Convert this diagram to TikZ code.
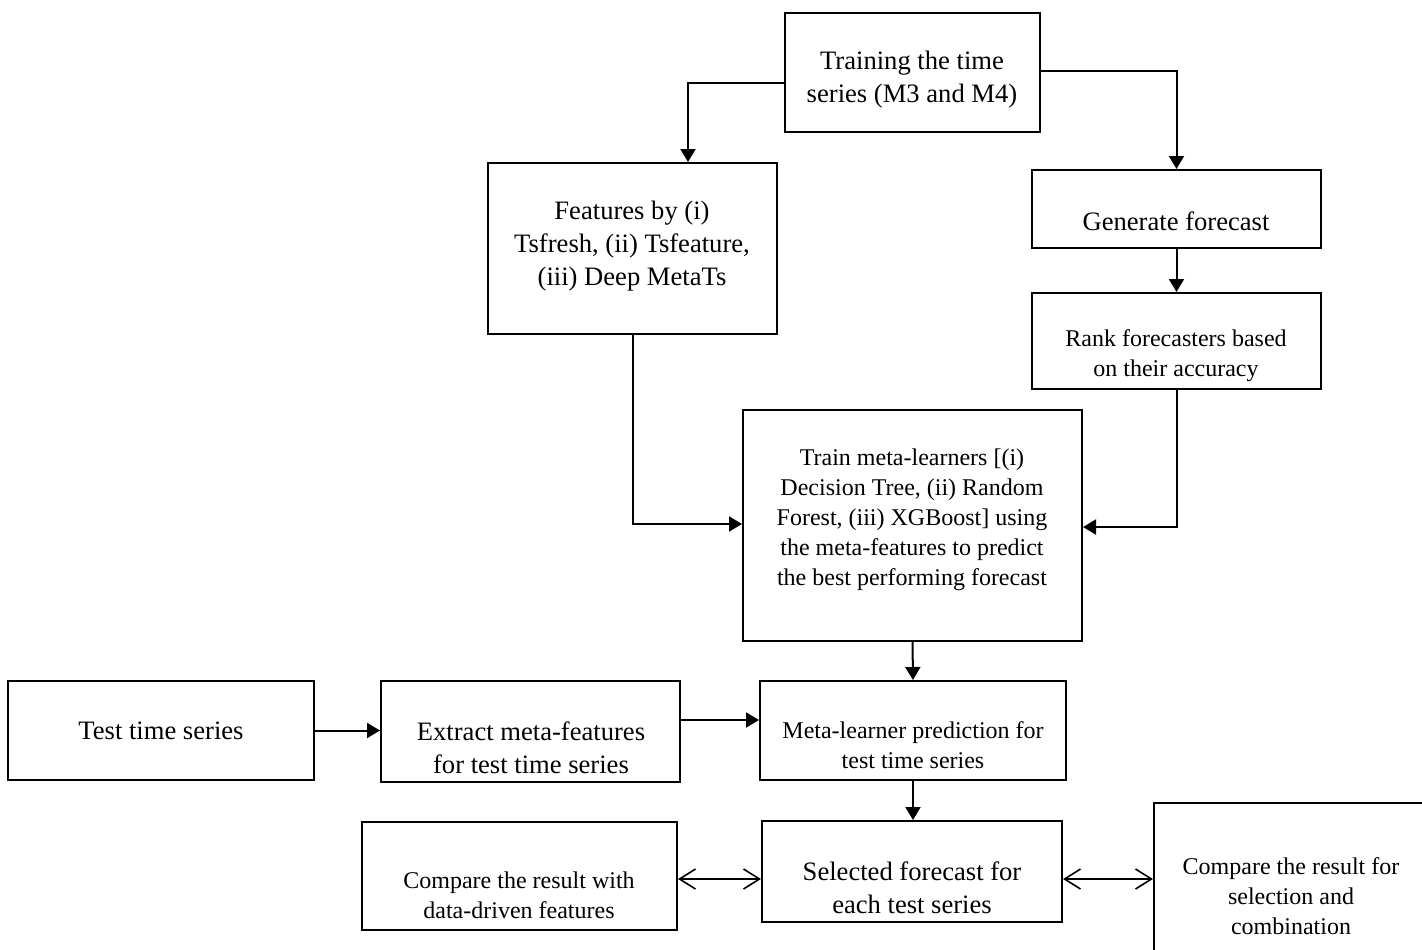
\documentclass[tikz,border=0pt]{standalone}
\usepackage{fontspec}
\setmainfont{Liberation Serif}
\usetikzlibrary{arrows.meta}
\begin{document}
\begin{tikzpicture}[x=0.5pt,y=-0.5pt,
  box/.style={draw, line width=1pt, inner sep=0pt},
  big/.style={align=center, font=\fontsize{13.3}{16.5}\selectfont, inner sep=0pt},
  small/.style={align=center, font=\fontsize{12}{15}\selectfont, inner sep=0pt},
  link/.style={line width=1pt, -{Triangle[length=6.5pt,width=7.5pt]}},
  both/.style={line width=0.8pt, {Straight Barb[length=8pt,width=10pt]}-{Straight Barb[length=8pt,width=10pt]}}
]
\useasboundingbox (0,0) rectangle (1422,949);
\begin{scope}
\clip (0,0) rectangle (1422,949);

% frames
\node[box, minimum width=127.5pt, minimum height=59.5pt] (train)   at (912.5,72.5) {};
\node[box, minimum width=144.5pt, minimum height=85.5pt] (feat)    at (632.5,248.5) {};
\node[box, minimum width=144.5pt, minimum height=39pt]   (gen)     at (1176.5,209) {};
\node[box, minimum width=144.5pt, minimum height=48pt]   (rank)    at (1176.5,341) {};
\node[box, minimum width=169.5pt, minimum height=115.5pt](meta)    at (912.5,525.5) {};
\node[box, minimum width=153pt,   minimum height=49.5pt] (test)    at (161,730.5) {};
\node[box, minimum width=149.5pt, minimum height=50.5pt] (extract) at (530.5,731.5) {};
\node[box, minimum width=153pt,   minimum height=49.5pt] (pred)    at (913,730.5) {};
\node[box, minimum width=150pt,   minimum height=50.5pt] (sel)     at (912,871.5) {};
\node[box, minimum width=157.5pt, minimum height=54pt]   (cmpd)    at (519.5,876) {};
\node[box, minimum width=137pt,   minimum height=93pt]   (cmps)    at (1291,896) {};

% labels
\node[big]   (train-t)   at (912,79.5)  {Training the time\\series (M3 and M4)};
\node[big]   (feat-t)    at (632,246)   {Features by (i)\\Tsfresh, (ii) Tsfeature,\\(iii) Deep MetaTs};
\node[big]   (gen-t)     at (1176,221)  {Generate forecast};
\node[small] (rank-t)    at (1176,356)  {Rank forecasters based\\on their accuracy};
\node[small] (meta-t)    at (912,520)   {Train meta-learners [(i)\\Decision Tree, (ii) Random\\Forest, (iii) XGBoost] using\\the meta-features to predict\\the best performing forecast};
\node[big]   (test-t)    at (161,731)   {Test time series};
\node[big]   (extract-t) at (531,747.5) {Extract meta-features\\for test time series};
\node[small] (pred-t)    at (913,745)   {Meta-learner prediction for\\test time series};
\node[big]   (sel-t)     at (912,888)   {Selected forecast for\\each test series};
\node[small] (cmpd-t)    at (519,895.5) {Compare the result with\\data-driven features};
\node[small] (cmps-t)    at (1291,896)  {Compare the result for\\selection and\\combination};

% connectors
\draw[link] (train.west |- 0,83) -| (feat.north -| 688,0);
\draw[link] (train.east |- 0,71) -| (gen.north);
\draw[link] (gen.south) -- (rank.north);
\draw[link] (feat.south) |- (meta.west |- 0,524);
\draw[link] (rank.south) |- (meta.east |- 0,527);
\draw[link] (meta.south) -- (pred.north);
\draw[link] (test.east) -- (test.east -| extract.west);
\draw[link] (extract.east |- 0,720) -- (pred.west |- 0,720);
\draw[link] (pred.south) -- (pred.south |- sel.north);
\draw[both] (cmpd.east |- 0,879) -- (sel.west |- 0,879);
\draw[both] (sel.east |- 0,879) -- (cmps.west |- 0,879);
\end{scope}
\end{tikzpicture}
\end{document}
